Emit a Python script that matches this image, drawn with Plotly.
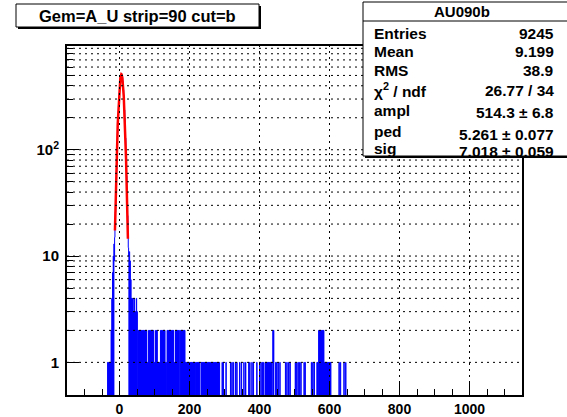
import numpy as np
import plotly.graph_objects as go

# ── canvas / frame (pixels) ──────────────────────────────────────────────────
W, H = 567, 417
L, R, T, B = 67, 522, 46, 395

X_RANGE = [-150, 1150]
Y_RANGE = [-0.307, 2.976]          # log10 units

# ── data ─────────────────────────────────────────────────────────────────────
# histogram with 1-unit bins; bin k covers [k, k+1)
PEAK_START = -34
PEAK_COUNTS = [
    1, 0, 1, 0, 1, 0, 1, 0, 1, 0, 2, 0, 4, 0, 7, 0, 10, 0,
    13, 9, 15, 20, 26, 35, 48, 63, 86, 110, 142, 176, 215, 257, 302, 343,
    388, 425, 462, 487, 506, 515, 511, 496, 477, 446, 409, 366, 325, 279,
    237, 199, 158, 129, 99, 77, 57, 44, 30, 24, 15, 12, 10, 0, 11, 0,
    9, 0, 6, 0, 4, 0, 4, 0, 4, 0, 3, 0, 4, 0, 3, 0, 3, 0, 4, 0, 3, 0,
]
TAIL_TWO = [
    53, 55, 57, 59, 61, 63, 65, 67, 69, 71, 73, 75, 77,
    83, 85, 87, 89, 91, 93, 95, 97, 103, 105, 107,
    117, 119, 121, 123, 125, 127, 129,
    136, 138, 140, 142, 144, 146, 148, 150, 152, 154,
    160, 162, 164, 166, 168, 170, 174, 176, 178, 180, 182, 184, 186,
    438, 440, 569, 571, 573, 575, 577, 579, 581, 583,
]
TAIL_ONE = [
    79, 81, 99, 101, 109, 111, 113, 115, 131, 133, 156, 158,
    188, 190, 192, 194, 196, 198, 200, 202, 204, 206, 208, 210, 212, 214, 216,
    220, 222, 224, 226, 228,
    233, 235, 237, 239, 241, 243, 245, 247, 249, 251, 253, 255, 257, 259,
    261, 263, 265, 267, 269, 271, 273, 275, 277, 279, 281, 283, 285,
    293, 296, 304, 317, 321, 325, 331, 335, 343, 348, 355, 360, 369, 372,
    378, 382, 392, 400, 404, 408, 411,
    416, 418, 420, 422, 424, 426, 428, 430, 432, 434,
    446, 449, 453, 458, 474, 478, 483, 487, 502, 506, 510, 514, 518,
    527, 530, 548, 552, 556,
    564, 566, 585, 587, 589, 591, 593, 595, 597, 599, 601, 603,
    627, 631, 641, 646,
]

# gaussian fit shown in the stats box
FIT_AMPL, FIT_PED, FIT_SIG = 514.3, 5.261, 7.018
FIT_RANGE = (-13.0, 24.0)

TITLE = "Gem=A_U strip=90 cut=b"
STAT_NAME = "AU090b"
STAT_LABELS = ["Entries", "Mean", "RMS", "χ<sup>2</sup> / ndf", "ampl", "ped", "sig"]
STAT_VALUES = ["9245", "9.199", "38.9", "26.77 / 34",
               "514.3 ± 6.8", "5.261 ± 0.077", "7.018 ± 0.059"]

X_TICKS = [0, 200, 400, 600, 800, 1000]
Y_TICKS = [1, 10, 100]
Y_TICKTEXT = ["1", "10", "10<sup>2</sup>"]
Y_MINOR = [2, 3, 4, 5, 6, 7, 8, 9, 20, 30, 40, 50, 60, 70, 80, 90,
           200, 300, 400, 500, 600, 700, 800, 900]

FONT = "Liberation Sans, Arial, Helvetica, sans-serif"


def px(x):
    return (x - L) / (R - L)


def py(y):
    return (B - y) / (B - T)


def ylog(v):
    return (np.log10(v) - Y_RANGE[0]) / (Y_RANGE[1] - Y_RANGE[0])


# ── histogram arrays ─────────────────────────────────────────────────────────
edges = np.arange(X_RANGE[0], X_RANGE[1] + 1)
counts = np.zeros(len(edges) - 1)
i0 = PEAK_START - X_RANGE[0]
counts[i0:i0 + len(PEAK_COUNTS)] = PEAK_COUNTS
for v in TAIL_ONE:
    counts[v - X_RANGE[0]] = 1
for v in TAIL_TWO:
    counts[v - X_RANGE[0]] = 2
ys = np.where(counts > 0, counts, 1e-3)
hx = np.append(edges[:-1], edges[-1])
hy = np.append(ys, ys[-1])

fx = np.linspace(FIT_RANGE[0], FIT_RANGE[1], 300)
fy = FIT_AMPL * np.exp(-0.5 * ((fx - FIT_PED) / FIT_SIG) ** 2)

fig = go.Figure()
fig.add_trace(go.Scatter(x=hx, y=hy, mode="lines", line_shape="hv",
                         line=dict(color="#0000ff", width=1), hoverinfo="skip"))
fig.add_trace(go.Scatter(x=fx, y=fy, mode="lines",
                         line=dict(color="#ff0000", width=2.5), hoverinfo="skip"))

# ── dotted grid drawn over the histogram ────────────────────────────────────
shapes = []
grid = dict(color="black", width=1, dash="2px,4px")
for v in X_TICKS:
    shapes.append(dict(type="line", xref="x", yref="paper", x0=v, x1=v, y0=0, y1=1,
                       line=grid, layer="above"))
for v in Y_TICKS + Y_MINOR:
    shapes.append(dict(type="line", xref="paper", yref="paper", x0=0, x1=1,
                       y0=ylog(v), y1=ylog(v), line=grid, layer="above"))

# title box
shapes.append(dict(type="rect", xref="paper", yref="paper",
                   x0=px(18), x1=px(261), y0=py(29), y1=py(6),
                   fillcolor="black", line=dict(width=0), layer="above"))
shapes.append(dict(type="rect", xref="paper", yref="paper",
                   x0=px(16), x1=px(259), y0=py(27), y1=py(4),
                   fillcolor="white", line=dict(color="black", width=1), layer="above"))
# stats box
shapes.append(dict(type="rect", xref="paper", yref="paper",
                   x0=px(365), x1=px(570), y0=py(158), y1=py(4),
                   fillcolor="black", line=dict(width=0), layer="above"))
shapes.append(dict(type="rect", xref="paper", yref="paper",
                   x0=px(363), x1=px(568), y0=py(156), y1=py(2),
                   fillcolor="white", line=dict(color="black", width=1), layer="above"))
shapes.append(dict(type="line", xref="paper", yref="paper",
                   x0=px(363), x1=px(568), y0=py(21), y1=py(21),
                   line=dict(color="black", width=1), layer="above"))

ann = [dict(text=TITLE, x=px(137.5), y=py(15.5), xref="paper", yref="paper",
            showarrow=False, xanchor="center", yanchor="middle",
            font=dict(family=FONT, size=16.5, color="black", weight="bold")),
       dict(text=STAT_NAME, x=px(462), y=py(12), xref="paper", yref="paper",
            showarrow=False, xanchor="center", yanchor="middle",
            font=dict(family=FONT, size=15, color="black", weight="bold"))]
label_y = [33, 52, 71, 90.5, 110.5, 131, 148]
value_y = [33, 52, 71, 90.5, 112.5, 134, 151.5]
for lab, val, ly, vy in zip(STAT_LABELS, STAT_VALUES, label_y, value_y):
    ann.append(dict(text=lab, x=px(372), y=py(ly), xref="paper", yref="paper",
                    showarrow=False, xanchor="left", yanchor="middle",
                    font=dict(family=FONT, size=15.5, color="black", weight="bold")))
    ann.append(dict(text=val, x=px(556), y=py(vy), xref="paper", yref="paper",
                    showarrow=False, xanchor="right", yanchor="middle",
                    font=dict(family=FONT, size=15.5, color="black", weight="bold")))

tickfont = dict(family=FONT, size=15, color="black", weight="bold")
fig.update_layout(
    width=W, height=H,
    margin=dict(l=L, r=W - R, t=T, b=H - B, autoexpand=False),
    paper_bgcolor="white", plot_bgcolor="white",
    showlegend=False,
    shapes=shapes, annotations=ann,
    xaxis=dict(range=X_RANGE, tickvals=X_TICKS, ticks="inside", ticklen=12,
               tickcolor="black", tickwidth=1, showline=True, linecolor="black",
               linewidth=2, mirror=True, showgrid=False, zeroline=False,
               tickfont=dict(family=FONT, size=14, color="black", weight="bold"),
               ticklabelstandoff=0, automargin=False,
               layer="above traces",
               minor=dict(tick0=0, dtick=50, ticks="inside", ticklen=6,
                          tickcolor="black", showgrid=False)),
    yaxis=dict(type="log", range=Y_RANGE, tickvals=Y_TICKS, ticktext=Y_TICKTEXT,
               ticks="inside", ticklen=12, tickcolor="black", tickwidth=1,
               showline=True, linecolor="black", linewidth=2, mirror=True,
               showgrid=False, zeroline=False, tickfont=tickfont,
               ticklabelstandoff=3, automargin=False, layer="above traces",
               minor=dict(tickvals=Y_MINOR, ticks="inside", ticklen=6,
                          tickcolor="black", showgrid=False)),
)

# the page's default body margin would shift the figure by 8px
fig.write_html("out.html", config={"displayModeBar": False},
               post_script="document.body.style.margin='0';")
